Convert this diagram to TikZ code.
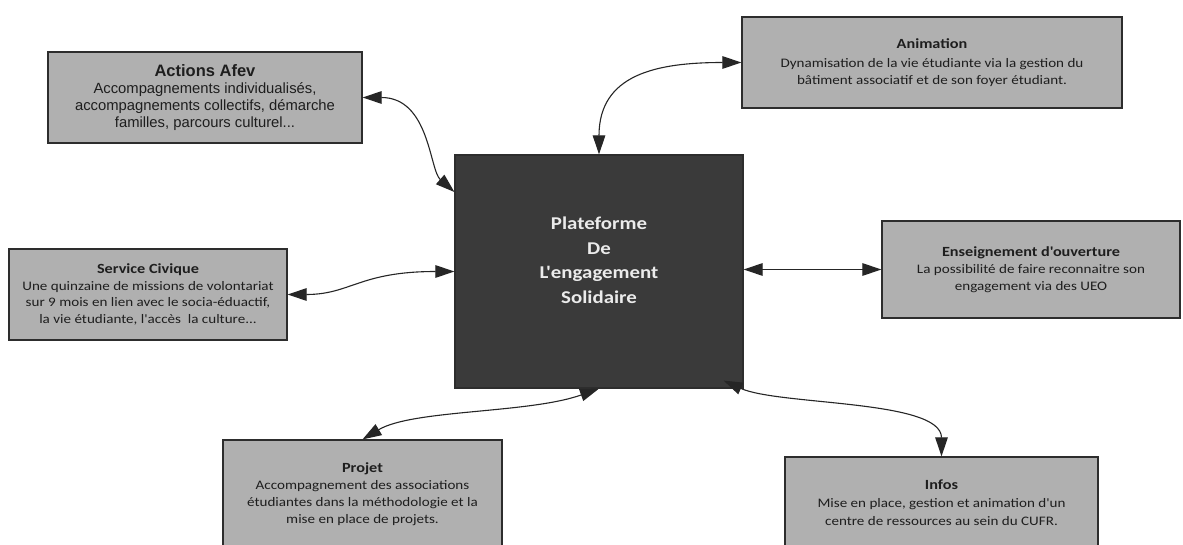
\documentclass[tikz,border=0pt]{standalone}
\usepackage{fontspec}
\setmainfont{Carlito}
\newfontfamily\calfont[FakeStretch=1.16]{Carlito}
\newfontfamily\arialfont{Liberation Sans}
\usetikzlibrary{arrows.meta}
\definecolor{boxgray}{RGB}{176,176,176}
\definecolor{centergray}{RGB}{58,58,58}
\definecolor{edgegray}{RGB}{45,45,45}
\definecolor{txtgray}{RGB}{30,30,30}
\newcommand{\boxtitle}[1]{{\bfseries\fontsize{14}{17}\selectfont #1}}
\begin{document}
\begin{tikzpicture}[x=1pt,y=-1pt,
  box/.style={draw=edgegray, line width=1.2pt, fill=boxgray, inner sep=0pt,
    align=center, text=txtgray, font=\calfont\fontsize{13}{17}\selectfont},
  centerbox/.style={draw=edgegray, line width=1.2pt, fill=centergray, inner sep=0pt},
  ctext/.style={align=center, text=white!92!black, font=\calfont\bfseries\fontsize{18}{24.5}\selectfont},
  link/.style={line width=1.1pt, draw=black!85, {Triangle[length=19pt,width=12.5pt]}-{Triangle[length=19pt,width=12.5pt]}}]
\clip (0,0) rectangle (1183,545);
\fill[white] (0,0) rectangle (1183,545);

\node[centerbox, minimum width=288pt, minimum height=233pt] (c) at (599,271.5) {};
\node[ctext] (ct) at ([yshift=11pt]c.center) {Plateforme\\De\\L'engagement\\Solidaire};

\node[box, minimum width=314pt, minimum height=91pt, font=\arialfont\fontsize{14.8}{17}\selectfont] (afev) at (205,97.5)
  {{\bfseries\fontsize{16.5}{17}\selectfont Actions Afev}\\Accompagnements individualisés,\\accompagnements collectifs, démarche\\familles, parcours culturel...};

\node[box, minimum width=380pt, minimum height=91pt] (anim) at (932,62.5)
  {\boxtitle{Animation}\\[2pt]Dynamisation de la vie étudiante via la gestion du\\bâtiment associatif et de son foyer étudiant.};

\node[box, minimum width=278pt, minimum height=91pt, font=\calfont\fontsize{13}{16.4}\selectfont] (sc) at (148,294.5)
  {\boxtitle{Service Civique}\\Une quinzaine de missions de volontariat\\sur 9 mois en lien avec le socia-éduactif,\\la vie étudiante, l'accès\ \ la culture...};

\node[box, minimum width=298pt, minimum height=97pt] (ens) at (1031,269.5)
  {\boxtitle{Enseignement d'ouverture}\\La possibilité de faire reconnaitre son\\engagement via des UEO};

\node[box, minimum width=279pt, minimum height=109pt] (proj) at (362.5,494.5)
  {\boxtitle{Projet}\\Accompagnement des associations\\étudiantes dans la méthodologie et la\\mise en place de projets.};

\node[box, minimum width=313pt, minimum height=92pt, font=\calfont\fontsize{13}{18}\selectfont] (infos) at (941.5,503)
  {\boxtitle{Infos}\\Mise en place, gestion et animation d'un\\centre de ressources au sein du CUFR.};

\draw[link] (afev.east) .. controls +(67,0) and +(-25,-22) .. ([yshift=79.5pt]c.west);
\draw[link] (anim.west) .. controls +(-85,0) and +(0,-80) .. (c.north);
\draw[link] (sc.east) .. controls +(63,0) and +(-95,0) .. (c.west);
\draw[link] (c.east |- ens.west) -- (ens.west);
\draw[link] (proj.north) .. controls +(50,-30) and +(-70,25) .. (c.south);
\coordinate (cinner) at ([xshift=-20pt,yshift=8pt]c.south east);
\draw[link] (cinner) .. controls +(55,25) and +(0,-57) .. (infos.north);
\end{tikzpicture}
\end{document}
